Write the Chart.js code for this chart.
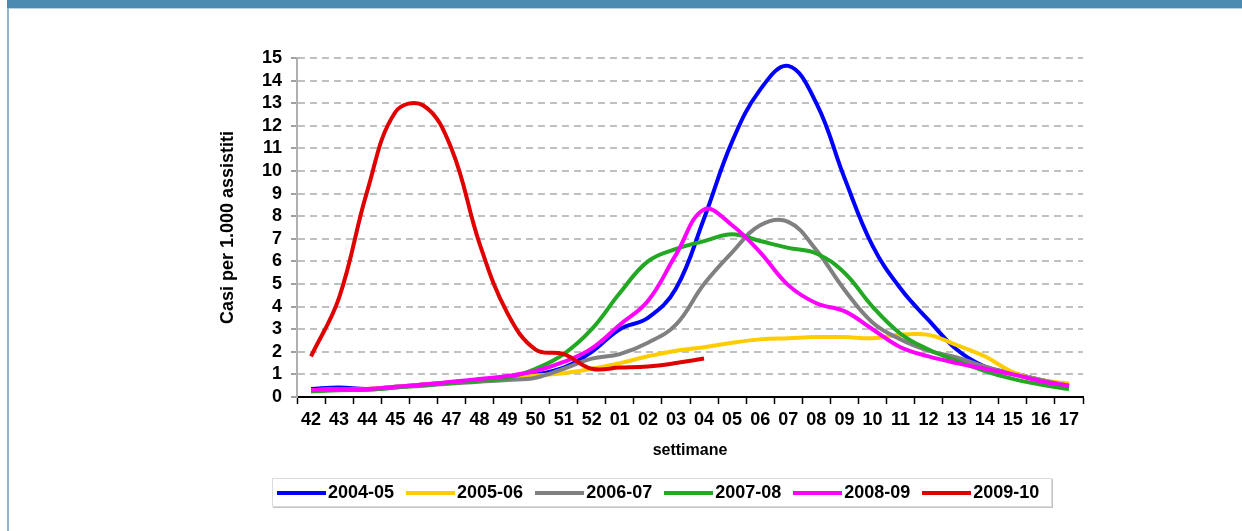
<!DOCTYPE html>
<html>
<head>
<meta charset="utf-8">
<script src="https://cdn.jsdelivr.net/npm/chart.js@4.4.1/dist/chart.umd.min.js"></script>
<style>
  html, body { margin: 0; padding: 0; background: #fff; }
  body { width: 1242px; height: 531px; position: relative; overflow: hidden;
         font-family: "Liberation Sans", Arial, sans-serif; }
  #band { position: absolute; left: 7px; top: 0; right: 0; height: 8px; background: #4a89b0; }
  #bandEdge { position: absolute; left: 7px; top: 8px; right: 0; height: 1px; background: #b6d2e4; }
  #edge { position: absolute; left: 7px; top: 8px; width: 2px; bottom: 0; background: #8fb8d0; }
  #wrap { position: absolute; left: 0; top: 0; width: 1242px; height: 531px; }
  #legend { position: absolute; left: 272px; top: 478px; width: 780px; height: 29px;
            box-sizing: border-box; border: 1px solid #dcdcdc; box-shadow: 1px 1px 0 #c4c4c4;
            display: flex; align-items: center; padding-left: 4px; }
  .item { display: flex; align-items: center; margin-right: 12px;
          font-weight: bold; font-size: 18px; color: #000; white-space: nowrap; }
  .sw { width: 49px; height: 4px; margin-right: 2px; }
</style>
</head>
<body>
<div id="band"></div>
<div id="bandEdge"></div>
<div id="edge"></div>
<div id="wrap"><canvas id="chart" width="1242" height="531"></canvas></div>
<div id="legend"></div>
<script>
// Weeks of the influenza season: 42..52, then 01..17
const weeks = ['42','43','44','45','46','47','48','49','50','51','52',
               '01','02','03','04','05','06','07','08','09','10','11','12','13','14','15','16','17'];

const seasonLabels = ['2004-05','2005-06','2006-07','2007-08','2008-09','2009-10'];
const seasonColors = ['#0000FF','#FFCC00','#808080','#22A822','#FF00FF','#E00000'];

// Weekly cases per 1,000 patients
const s2004_05 = [0.35,0.42,0.35,0.45,0.55,0.65,0.75,0.85,1.0,1.3,2.0,
                  3.0,3.5,4.8,7.9,11.3,13.6,14.65,13.0,9.7,6.7,4.8,3.4,2.1,1.35,1.05,0.75,0.5];
const s2005_06 = [0.3,0.35,0.35,0.45,0.55,0.65,0.75,0.85,0.95,1.05,1.25,
                  1.5,1.8,2.05,2.2,2.4,2.55,2.6,2.65,2.65,2.6,2.75,2.75,2.3,1.8,1.1,0.75,0.6];
const s2006_07 = [0.25,0.35,0.32,0.42,0.5,0.6,0.68,0.75,0.85,1.25,1.7,
                  1.9,2.4,3.2,5.0,6.4,7.6,7.75,6.5,4.75,3.3,2.55,2.05,1.75,1.35,1.0,0.75,0.5];
const s2007_08 = [0.25,0.3,0.32,0.42,0.52,0.62,0.72,0.85,1.25,1.9,3.0,
                  4.6,6.0,6.55,6.9,7.2,6.9,6.6,6.35,5.5,4.0,2.8,2.1,1.6,1.15,0.8,0.55,0.35];
const s2008_09 = [0.3,0.35,0.35,0.45,0.55,0.67,0.8,0.93,1.15,1.55,2.15,
                  3.2,4.25,6.3,8.3,7.6,6.4,4.95,4.15,3.8,3.0,2.2,1.8,1.5,1.25,1.0,0.7,0.5];
const s2009_10 = [1.8,4.4,9.1,12.6,12.9,11.0,6.8,3.7,2.1,1.9,1.25,
                  1.3,1.35,1.5,1.7];

const yTicksMax = 15;
const yTickStep = 1;

const seriesData = [s2004_05, s2005_06, s2006_07, s2007_08, s2008_09, s2009_10];

Chart.defaults.font.family = '"Liberation Sans", Arial, sans-serif';
Chart.defaults.font.weight = 'bold';
Chart.defaults.color = '#000';

const datasets = seriesData.map((vals, i) => ({
  label: seasonLabels[i],
  data: vals,
  borderColor: seasonColors[i],
  backgroundColor: seasonColors[i],
  borderWidth: 4,
  pointRadius: 0,
  pointHoverRadius: 0,
  tension: 0.4,
  fill: false,
  // later seasons drawn on top
  order: seriesData.length - i
}));

const chart = new Chart(document.getElementById('chart'), {
  type: 'line',
  data: { labels: weeks, datasets },
  options: {
    responsive: false,
    animation: false,
    events: [],
    layout: { padding: { left: 200, right: 159, top: 58, bottom: 64 } },
    plugins: { legend: { display: false }, tooltip: { enabled: false } },
    scales: {
      x: {
        type: 'category',
        offset: true,
        afterFit: s => { s.height = 70; },
        grid: { drawOnChartArea: false, drawTicks: true, tickLength: 7,
                tickColor: '#000', tickWidth: 1.5, offset: true },
        border: { display: true, color: '#000', width: 2 },
        ticks: { font: { size: 18, weight: 'bold' }, padding: 5,
                 maxRotation: 0, autoSkip: false, color: '#000' },
        title: { display: true, text: 'settimane',
                 font: { size: 16, weight: 'bold' }, padding: { top: 0, bottom: 7 }, color: '#000' }
      },
      y: {
        min: 0, max: yTicksMax,
        afterFit: s => { s.width = 97; },
        grid: { color: '#c0c0c0', lineWidth: 2,
                drawTicks: true, tickLength: 6, tickColor: '#a0a0a0',
                tickWidth: 2, tickBorderDash: [] },
        border: { display: true, color: '#b0b0b0', width: 2, dash: [7, 5] },
        ticks: { stepSize: yTickStep, autoSkip: false, font: { size: 18, weight: 'bold' },
                 padding: 9, color: '#000' },
        title: { display: true, text: 'Casi per 1.000 assistiti',
                 font: { size: 18, weight: 'bold' }, padding: { top: 17, bottom: 0 }, color: '#000' }
      }
    }
  }
});

// Legend row below the chart, built from the datasets
const legend = document.getElementById('legend');
chart.data.datasets.forEach(ds => {
  const item = document.createElement('div');
  item.className = 'item';
  const sw = document.createElement('span');
  sw.className = 'sw';
  sw.style.background = ds.borderColor;
  const tx = document.createElement('span');
  tx.textContent = ds.label;
  item.appendChild(sw);
  item.appendChild(tx);
  legend.appendChild(item);
});
</script>
</body>
</html>
